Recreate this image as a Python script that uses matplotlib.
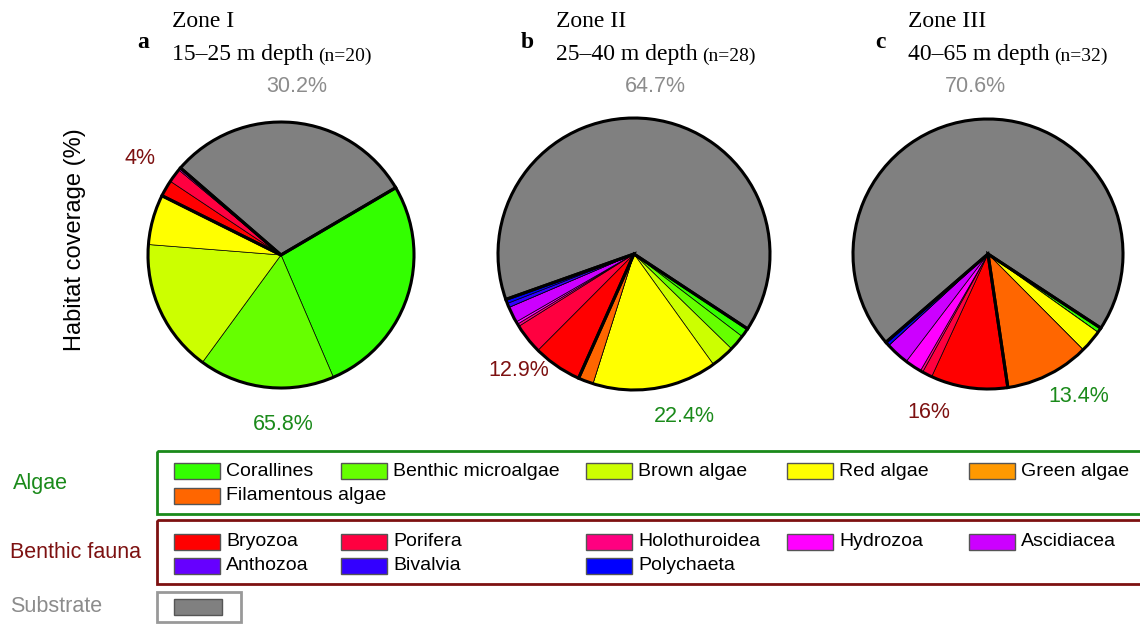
import matplotlib
matplotlib.use("Agg")
import matplotlib.pyplot as plt
from matplotlib.patches import Rectangle

# categories in drawing order (clockwise from the algae/substrate boundary)
algae_names = ["Corallines", "Benthic microalgae", "Brown algae", "Red algae",
               "Green algae", "Filamentous algae"]
fauna_names = ["Bryozoa", "Porifera", "Holothuroidea", "Hydrozoa", "Ascidiacea",
               "Anthozoa", "Bivalvia", "Polychaeta"]

algae_colors = ["#33ff00", "#66ff00", "#ccff00", "#ffff00", "#ff9900", "#ff6600"]
fauna_colors = ["#ff0000", "#ff0040", "#ff0080", "#ff00ff", "#cc00ff",
                "#6600ff", "#3300ff", "#0000ff"]
substrate_color = "#808080"

# habitat coverage (%) per zone
zone_a_algae = [27.0, 16.5, 16.2, 6.1, 0.0, 0.0]
zone_a_fauna = [2.0, 1.7, 0.0, 0.3, 0.0, 0.0, 0.0, 0.0]
zone_a_substrate = 30.2

zone_b_algae = [1.1, 1.9, 2.8, 14.8, 0.0, 1.8]
zone_b_fauna = [5.8, 3.6, 0.3, 0.3, 1.9, 0.0, 0.5, 0.5]
zone_b_substrate = 64.7

zone_c_algae = [0.6, 0.0, 0.0, 2.7, 0.0, 10.1]
zone_c_fauna = [9.2, 1.2, 0.3, 2.0, 2.8, 0.0, 0.0, 0.5]
zone_c_substrate = 70.6

zone_letters = ["a", "b", "c"]
zone_titles = ["Zone I", "Zone II", "Zone III"]
zone_depths = ["15–25 m depth", "25–40 m depth", "40–65 m depth"]
zone_n = ["(n=20)", "(n=28)", "(n=32)"]

W, H = 1140, 624
fig = plt.figure(figsize=(W / 100, H / 100), dpi=100)

# overlay in pixel coordinates for text and legend boxes
ov = fig.add_axes([0, 0, 1, 1])
ov.set_xlim(0, W)
ov.set_ylim(H, 0)
ov.axis("off")

SANS = "Liberation Sans"
SERIF = "Liberation Serif"
c_sub = "#8c8c8c"
c_fauna = "#7d1111"
c_algae = "#1a8a1a"

zones = [
    (zone_a_algae, zone_a_fauna, zone_a_substrate),
    (zone_b_algae, zone_b_fauna, zone_b_substrate),
    (zone_c_algae, zone_c_fauna, zone_c_substrate),
]
# (cx, cy, radius, startangle)
pie_geom = [(281, 255, 133, 30.4), (634, 254, 136, -33.4), (988, 254, 135, -33.3)]
# label positions: substrate, fauna, algae
label_pos = [
    [(297, 87), (140, 159), (283, 424)],
    [(655, 87), (519, 371), (684, 416)],
    [(975, 87), (929, 412), (1079, 396)],
]
head_x = [(143, 172), (527, 556), (880, 908)]

for i, (alg, fau, sub) in enumerate(zones):
    cx, cy, r, start = pie_geom[i]
    ax = fig.add_axes([(cx - r) / W, 1 - (cy + r) / H, 2 * r / W, 2 * r / H])
    vals = alg + fau + [sub]
    cols = algae_colors + fauna_colors + [substrate_color]
    ax.pie(vals, colors=cols, startangle=start, counterclock=False,
           wedgeprops=dict(edgecolor="black", linewidth=0.5, clip_on=False))
    # heavier outline around each group
    totals = [round(sum(alg), 1), round(sum(fau), 1), sub]
    ax.pie(totals, colors=["none"] * 3, startangle=start, counterclock=False,
           wedgeprops=dict(edgecolor="black", linewidth=2.2, fill=False, clip_on=False))
    ax.set_xlim(-1, 1)
    ax.set_ylim(-1, 1)
    ax.set_aspect("equal")
    ax.axis("off")

    for (x, y), v, c in zip(label_pos[i], [totals[2], totals[1], totals[0]],
                            [c_sub, c_fauna, c_algae]):
        ov.text(x, y, f"{v:g}%", color=c, family=SANS, fontsize=15.5,
                ha="center", va="center")

    lx, tx = head_x[i]
    ov.text(lx, 48, zone_letters[i], family=SERIF, fontweight="bold",
            fontsize=17, va="baseline", ha="center")
    ov.text(tx, 27, zone_titles[i], family=SERIF, fontsize=17, va="baseline")
    t = ov.text(tx, 60, zone_depths[i], family=SERIF, fontsize=17, va="baseline")
    ov.annotate(zone_n[i], xy=(1, 0), xycoords=t, xytext=(3, 0),
                textcoords="offset points", family=SERIF, fontsize=14,
                va="bottom", ha="left")

ov.text(75, 240, "Habitat coverage (%)", rotation=90, family=SANS,
        fontsize=17, ha="center", va="center")

# grouped legend
col_x = [174, 341, 586, 787, 969]


def legend_group(names, colors, row_y):
    for k, (name, col) in enumerate(zip(names, colors)):
        x = col_x[k % 5]
        y = row_y[k // 5]
        ov.add_patch(Rectangle((x, y - 8), 46, 16, facecolor=col,
                               edgecolor="#555555", linewidth=1))
        ov.text(x + 52, y, name, family=SANS, fontsize=14, va="center")


ov.add_patch(Rectangle((157, 451), 1000, 63, fill=False, edgecolor=c_algae,
                       linewidth=2, clip_on=False))
ov.text(13, 484, "Algae", color=c_algae, family=SANS, fontsize=15.5, va="center")
legend_group(algae_names, algae_colors, [471, 496])

ov.add_patch(Rectangle((157, 520), 1000, 64, fill=False, edgecolor=c_fauna,
                       linewidth=2, clip_on=False))
ov.text(10, 552, "Benthic fauna", color=c_fauna, family=SANS, fontsize=15.5,
        va="center")
legend_group(fauna_names, fauna_colors, [542, 566])

ov.add_patch(Rectangle((157, 592), 84, 30, fill=False, edgecolor="#999999",
                       linewidth=2, clip_on=False))
ov.text(10, 606, "Substrate", color=c_sub, family=SANS, fontsize=15.5, va="center")
ov.add_patch(Rectangle((174, 599), 48, 16, facecolor=substrate_color,
                       edgecolor="#555555", linewidth=1))

fig.savefig("out.png", dpi=100)
